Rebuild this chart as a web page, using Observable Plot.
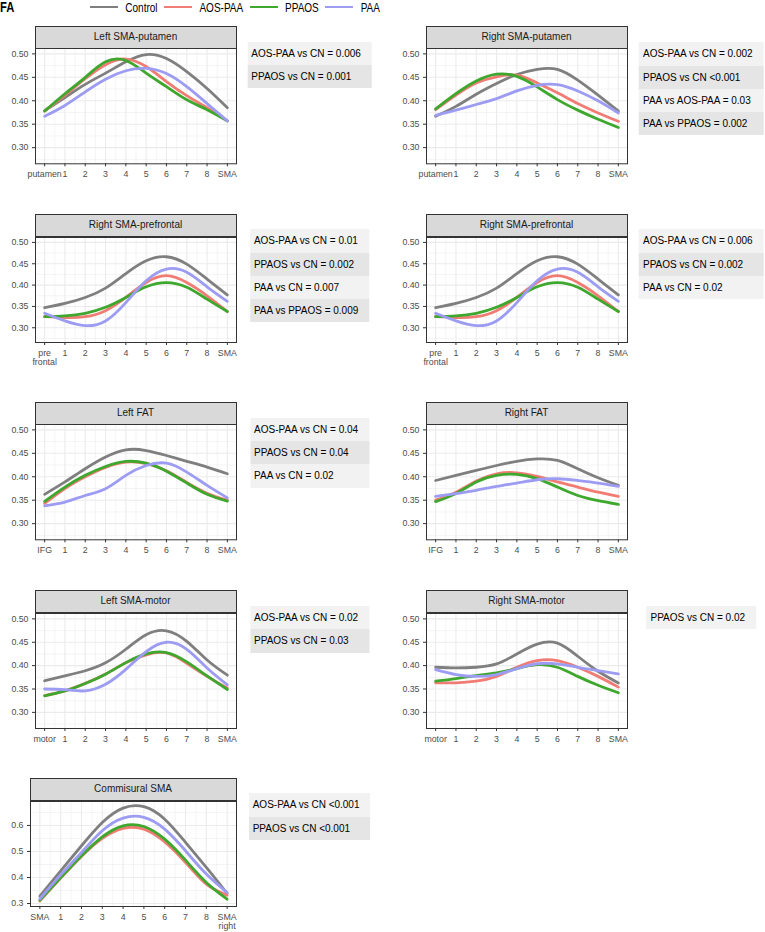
<!DOCTYPE html>
<html><head><meta charset="utf-8">
<script src="https://cdn.jsdelivr.net/npm/d3@7"></script>
<script src="https://cdn.jsdelivr.net/npm/@observablehq/plot@0.6"></script>
<style>
body{margin:0;background:#fff;font-family:"Liberation Sans",Arial,Helvetica,sans-serif;}
#root{position:relative;width:765px;height:932px;overflow:hidden;background:#fff;}
.strip{position:absolute;box-sizing:border-box;background:#d9d9d9;border:1px solid #333;font-size:10px;color:#1a1a1a;text-align:center;}
.ann{position:absolute;transform:translateX(-50%);}
.ann div{height:23.3px;line-height:23.3px;padding:0 11px 0 4px;font-size:10px;color:#000;white-space:nowrap;}
.ann div:nth-child(odd){background:#f2f2f2;}
.ann div:nth-child(even){background:#e5e5e5;}
.leg{position:absolute;left:90px;top:0;height:14px;display:flex;align-items:center;}
.leg .key{width:28px;height:2px;margin-right:7.3px;}
.leg .lab{font-size:10px;color:#000;margin-right:6.6px;transform:scaleY(1.35);white-space:nowrap;}
.fa{position:absolute;left:0;top:0;font-size:14px;font-weight:bold;line-height:15px;transform:scaleX(0.8);transform-origin:left center;}
svg{overflow:visible;}
</style></head><body><div id="root"></div><script>
// ---------- data ----------
const groups = ["Control", "AOS-PAA", "PPAOS", "PAA"];
const groupColors = ["#7f7f7f", "#f07c74", "#3ea72d", "#9d9cf3"];

const labelsPutamen = ["putamen", "1", "2", "3", "4", "5", "6", "7", "8", "SMA"];
const labelsPrefrontal = ["pre\nfrontal", "1", "2", "3", "4", "5", "6", "7", "8", "SMA"];
const labelsFAT = ["IFG", "1", "2", "3", "4", "5", "6", "7", "8", "SMA"];
const labelsMotor = ["motor", "1", "2", "3", "4", "5", "6", "7", "8", "SMA"];
const labelsCommisural = ["SMA", "1", "2", "3", "4", "5", "6", "7", "8", "SMA\nright"];

const yTicksFA = [0.30, 0.35, 0.40, 0.45, 0.50];
const yTicksCommisural = [0.3, 0.4, 0.5, 0.6];

// values per group (Control, AOS-PAA, PPAOS, PAA) at positions 0..9
const leftSMAputamen = [
  [0.379, 0.407, 0.435, 0.459, 0.483, 0.4985, 0.490, 0.462, 0.426, 0.385],
  [0.378, 0.412, 0.447, 0.477, 0.489, 0.473, 0.441, 0.411, 0.385, 0.357],
  [0.378, 0.415, 0.450, 0.483, 0.486, 0.459, 0.430, 0.402, 0.381, 0.357],
  [0.367, 0.390, 0.419, 0.446, 0.464, 0.469, 0.458, 0.430, 0.394, 0.357]
];
const rightSMAputamen = [
  [0.367, 0.388, 0.414, 0.437, 0.456, 0.467, 0.467, 0.444, 0.412, 0.378],
  [0.381, 0.412, 0.438, 0.451, 0.4545, 0.438, 0.417, 0.394, 0.374, 0.356],
  [0.3825, 0.415, 0.442, 0.4566, 0.452, 0.4295, 0.4025, 0.380, 0.3605, 0.343],
  [0.369, 0.380, 0.392, 0.4046, 0.421, 0.433, 0.4345, 0.421, 0.400, 0.374]
];
const leftColRightSMAprefrontal = [
  [0.347, 0.357, 0.371, 0.393, 0.427, 0.457, 0.4664, 0.449, 0.414, 0.377],
  [0.326, 0.324, 0.326, 0.340, 0.371, 0.406, 0.422, 0.406, 0.375, 0.338],
  [0.326, 0.328, 0.334, 0.348, 0.371, 0.396, 0.406, 0.395, 0.367, 0.338],
  [0.334, 0.316, 0.305, 0.316, 0.359, 0.410, 0.4375, 0.430, 0.396, 0.362]
];
const rightColRightSMAprefrontal = [
  [0.347, 0.357, 0.371, 0.393, 0.427, 0.457, 0.4664, 0.449, 0.414, 0.377],
  [0.326, 0.324, 0.326, 0.340, 0.371, 0.406, 0.422, 0.406, 0.375, 0.338],
  [0.326, 0.328, 0.334, 0.348, 0.371, 0.396, 0.406, 0.395, 0.367, 0.338],
  [0.334, 0.316, 0.305, 0.316, 0.359, 0.410, 0.4375, 0.430, 0.396, 0.362]
];
const leftFAT = [
  [0.3625, 0.389, 0.417, 0.442, 0.4575, 0.456, 0.4454, 0.433, 0.4206, 0.4064],
  [0.343, 0.375, 0.400, 0.420, 0.431, 0.428, 0.413, 0.388, 0.365, 0.350],
  [0.3475, 0.378, 0.403, 0.422, 0.4326, 0.429, 0.412, 0.3866, 0.3625, 0.348],
  [0.338, 0.346, 0.360, 0.3745, 0.403, 0.424, 0.429, 0.410, 0.3816, 0.355]
];
const rightFAT = [
  [0.392, 0.403, 0.4135, 0.424, 0.433, 0.438, 0.435, 0.417, 0.398, 0.3816],
  [0.350, 0.367, 0.391, 0.4064, 0.4085, 0.4007, 0.389, 0.378, 0.367, 0.358],
  [0.347, 0.364, 0.389, 0.403, 0.405, 0.396, 0.378, 0.360, 0.349, 0.341],
  [0.358, 0.364, 0.371, 0.3795, 0.3866, 0.3936, 0.3958, 0.392, 0.3866, 0.3795]
];
const leftSMAmotor = [
  [0.3675, 0.378, 0.389, 0.406, 0.435, 0.466, 0.4745, 0.452, 0.412, 0.3795],
  [0.336, 0.346, 0.362, 0.382, 0.406, 0.423, 0.427, 0.405, 0.377, 0.352],
  [0.3355, 0.346, 0.3617, 0.3817, 0.4064, 0.425, 0.4277, 0.408, 0.378, 0.349],
  [0.350, 0.3485, 0.346, 0.360, 0.392, 0.430, 0.450, 0.435, 0.395, 0.359]
];
const rightSMAmotor = [
  [0.3965, 0.395, 0.3965, 0.4036, 0.425, 0.446, 0.448, 0.420, 0.388, 0.363],
  [0.3632, 0.3632, 0.3667, 0.377, 0.3965, 0.4107, 0.4107, 0.3965, 0.377, 0.354],
  [0.3667, 0.3724, 0.3788, 0.3844, 0.3936, 0.402, 0.3965, 0.377, 0.358, 0.342],
  [0.3915, 0.381, 0.377, 0.381, 0.3936, 0.404, 0.4036, 0.3965, 0.3894, 0.3823]
];
const commisuralSMA = [
  [0.328, 0.4256, 0.522, 0.6115, 0.6667, 0.672, 0.624, 0.535, 0.4385, 0.3385],
  [0.310, 0.3974, 0.4808, 0.550, 0.5885, 0.586, 0.537, 0.4577, 0.3744, 0.332],
  [0.313, 0.400, 0.4833, 0.5564, 0.5987, 0.596, 0.5474, 0.4667, 0.381, 0.3167],
  [0.318, 0.410, 0.496, 0.5795, 0.628, 0.631, 0.586, 0.5026, 0.413, 0.342]
];

const annLeftSMAputamen = ["AOS-PAA vs CN = 0.006", "PPAOS vs CN = 0.001"];
const annRightSMAputamen = ["AOS-PAA vs CN = 0.002", "PPAOS vs CN <0.001", "PAA vs AOS-PAA = 0.03", "PAA vs PPAOS = 0.002"];
const annLeftColPrefrontal = ["AOS-PAA vs CN = 0.01", "PPAOS vs CN = 0.002", "PAA vs CN = 0.007", "PAA vs PPAOS = 0.009"];
const annRightColPrefrontal = ["AOS-PAA vs CN = 0.006", "PPAOS vs CN = 0.002", "PAA vs CN = 0.02"];
const annLeftFAT = ["AOS-PAA vs CN = 0.04", "PPAOS vs CN = 0.04", "PAA vs CN = 0.02"];
const annRightFAT = [];
const annLeftSMAmotor = ["AOS-PAA vs CN = 0.02", "PPAOS vs CN = 0.03"];
const annRightSMAmotor = ["PPAOS vs CN = 0.02"];
const annCommisural = ["AOS-PAA vs CN <0.001", "PPAOS vs CN <0.001"];

const panels = [
  {title: "Left SMA-putamen", values: leftSMAputamen, labels: labelsPutamen, yTicks: yTicksFA, ann: annLeftSMAputamen},
  {title: "Right SMA-putamen", values: rightSMAputamen, labels: labelsPutamen, yTicks: yTicksFA, ann: annRightSMAputamen},
  {title: "Right SMA-prefrontal", values: leftColRightSMAprefrontal, labels: labelsPrefrontal, yTicks: yTicksFA, ann: annLeftColPrefrontal},
  {title: "Right SMA-prefrontal", values: rightColRightSMAprefrontal, labels: labelsPrefrontal, yTicks: yTicksFA, ann: annRightColPrefrontal},
  {title: "Left FAT", values: leftFAT, labels: labelsFAT, yTicks: yTicksFA, ann: annLeftFAT},
  {title: "Right FAT", values: rightFAT, labels: labelsFAT, yTicks: yTicksFA, ann: annRightFAT},
  {title: "Left SMA-motor", values: leftSMAmotor, labels: labelsMotor, yTicks: yTicksFA, ann: annLeftSMAmotor},
  {title: "Right SMA-motor", values: rightSMAmotor, labels: labelsMotor, yTicks: yTicksFA, ann: annRightSMAmotor},
  {title: "Commisural SMA", values: commisuralSMA, labels: labelsCommisural, yTicks: yTicksCommisural, ann: annCommisural}
];

// ---------- layout ----------
const plotTops = [48, 236.5, 424, 612.7, 800.7];
const plotBottoms = [163.3, 341.5, 539.3, 727.7, 905.7];
const annTops = [[41.7, 42.3], [229.3, 229.3], [417.7, 417.7], [606, 606], [793.3, 793.3]];
const colSvgLeft = [0, 391];
const annCenters = [309.6, 701.3];
const stripH = 22.5;
const FONT = '"Liberation Sans", Arial, Helvetica, sans-serif';

const root = document.getElementById("root");

// header: FA + legend
const fa = document.createElement("div");
fa.className = "fa"; fa.textContent = "FA"; root.appendChild(fa);
const leg = document.createElement("div");
leg.className = "leg";
groups.forEach((g, i) => {
  const k = document.createElement("div"); k.className = "key"; k.style.background = groupColors[i];
  const t = document.createElement("div"); t.className = "lab"; t.textContent = g;
  leg.appendChild(k); leg.appendChild(t);
});
root.appendChild(leg);

panels.forEach((p, idx) => {
  const row = Math.floor(idx / 2), col = idx % 2;
  const isComm = p.yTicks === yTicksCommisural;
  const top = plotTops[row], bottom = plotBottoms[row];
  const ml = isComm ? 30 : 35;
  const plotW = isComm ? 206 : 201;
  const mt = 4, mr = 4;
  const twoLine = p.labels.some(s => s.includes("\n"));
  const mb = twoLine ? 40 : 30;
  const yDomain = isComm ? [0.2885, 0.692] : [0.2655, 0.5115];
  const yMinor = isComm ? [0.35, 0.45, 0.55, 0.65] : [0.275, 0.325, 0.375, 0.425, 0.475];
  const xMajor = d3.range(10);
  const xMinor = d3.range(9).map(i => i + 0.5);
  const rows = [];
  groups.forEach((g, gi) => p.values[gi].forEach((v, i) => rows.push({group: g, pos: i, value: v})));

  const svg = Plot.plot({
    width: ml + plotW + mr,
    height: mt + (bottom - top) + mb,
    marginLeft: ml, marginRight: mr, marginTop: mt, marginBottom: mb,
    x: {domain: [-0.45, 9.45]},
    y: {domain: yDomain},
    color: {domain: groups, range: groupColors},
    style: {fontFamily: FONT, background: "transparent", overflow: "visible"},
    marks: [
      Plot.ruleX(xMinor, {stroke: "#ebebeb", strokeWidth: 0.55}),
      Plot.ruleY(yMinor, {stroke: "#ebebeb", strokeWidth: 0.55}),
      Plot.ruleX(xMajor, {stroke: "#ebebeb", strokeWidth: 1.1}),
      Plot.ruleY(p.yTicks, {stroke: "#ebebeb", strokeWidth: 1.1}),
      Plot.line(rows, {x: "pos", y: "value", z: "group", stroke: "group", strokeWidth: 2.8, curve: "natural"}),
      Plot.frame({stroke: "#333333", strokeWidth: 1}),
      Plot.axisX({ticks: xMajor, tickFormat: d => p.labels[d], tickSize: 3, tickPadding: 4, fontSize: 8.8,
        stroke: "#333333", fill: "#4d4d4d", label: null}),
      Plot.axisY({ticks: p.yTicks, tickFormat: d3.format(isComm ? ".1f" : ".2f"), tickSize: 3, tickPadding: 4,
        fontSize: 8.8, stroke: "#333333", fill: "#4d4d4d", label: null})
    ]
  });
  svg.style.position = "absolute";
  svg.style.left = colSvgLeft[col] + "px";
  svg.style.top = (top - mt) + "px";
  root.appendChild(svg);

  const strip = document.createElement("div");
  strip.className = "strip";
  strip.style.left = (colSvgLeft[col] + ml - 0.5) + "px";
  strip.style.width = (plotW + 1) + "px";
  strip.style.top = (top - stripH) + "px";
  strip.style.height = (stripH + 0.5) + "px";
  strip.style.lineHeight = (stripH - 2) + "px";
  strip.textContent = p.title;
  root.appendChild(strip);

  if (p.ann.length) {
    const a = document.createElement("div");
    a.className = "ann";
    a.style.left = annCenters[col] + "px";
    a.style.top = annTops[row][col] + "px";
    p.ann.forEach(s => { const d = document.createElement("div"); d.textContent = s; a.appendChild(d); });
    root.appendChild(a);
  }
});
</script></body></html>
